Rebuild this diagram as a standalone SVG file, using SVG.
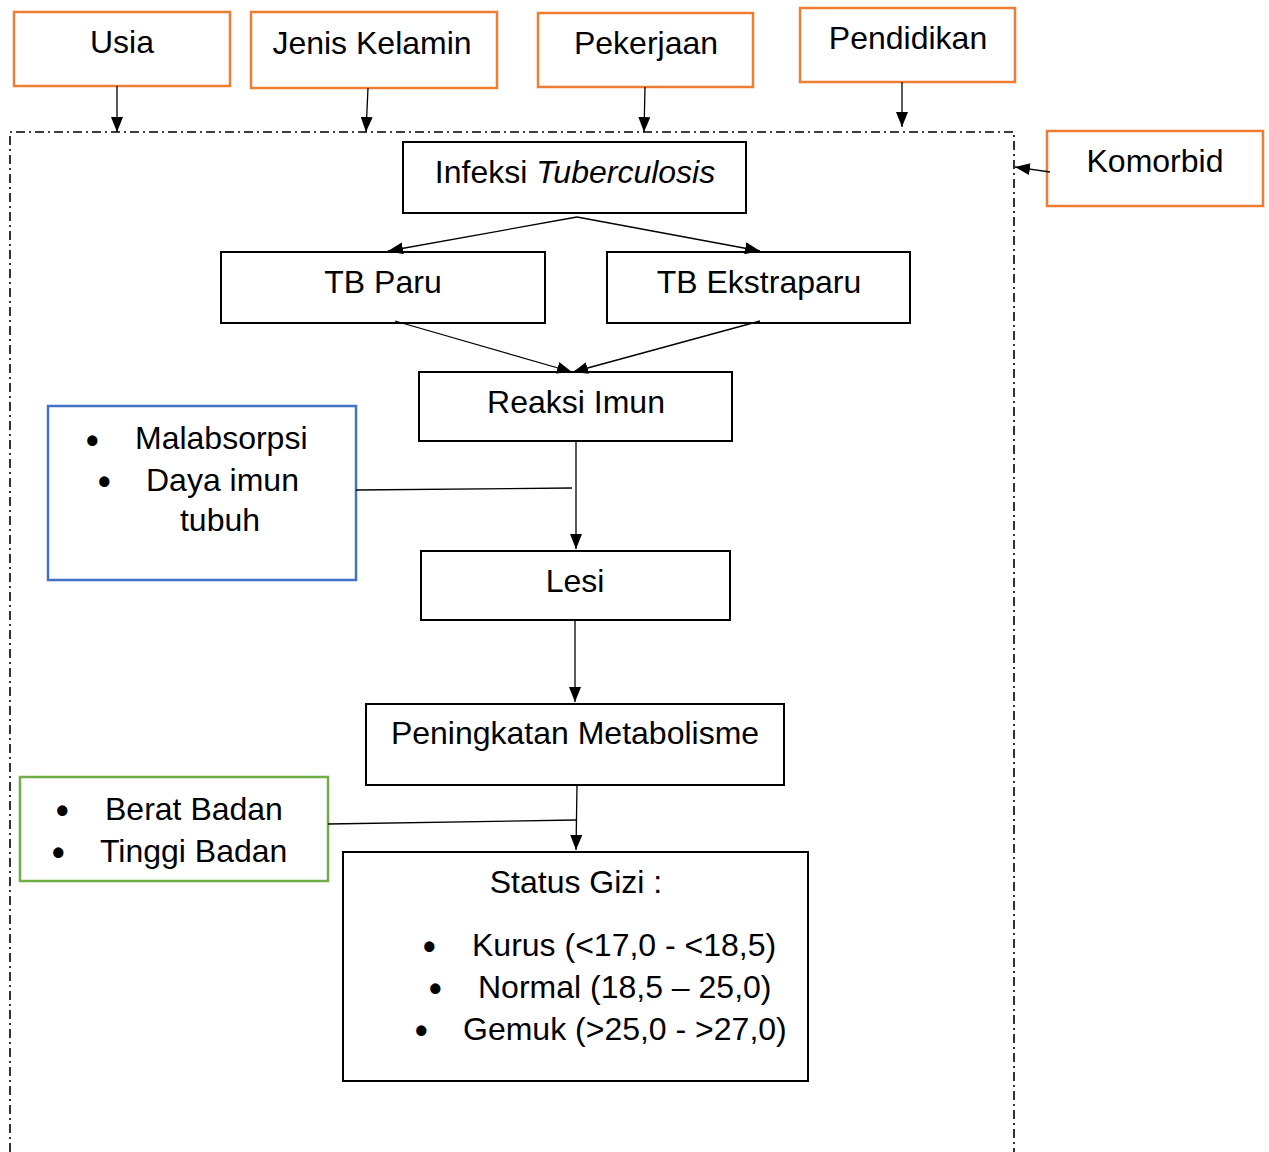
<svg xmlns="http://www.w3.org/2000/svg" width="1269" height="1152" viewBox="0 0 1269 1152">
<style>
text{font-family:"Liberation Sans",Arial,sans-serif;font-size:32px;fill:#000}
text.b{font-size:36px;font-weight:bold}
.c{text-anchor:middle}
.or{fill:#fff;stroke:#ED7D31;stroke-width:2.5}
.bk{fill:#fff;stroke:#000;stroke-width:2}
.bl{fill:#fff;stroke:#4472C4;stroke-width:2.5}
.gr{fill:#fff;stroke:#70AD47;stroke-width:2.5}
.ln{stroke:#000;stroke-width:1.3;fill:none}
.ar{stroke:#000;stroke-width:1.3;fill:none;marker-end:url(#ah)}
.frame{stroke:#000;stroke-width:1.6;fill:none;stroke-dasharray:9 4 2 4}
</style>
<defs>
<marker id="ah" viewBox="0 0 15 12" refX="15" refY="6" markerWidth="15" markerHeight="12" markerUnits="userSpaceOnUse" orient="auto">
<path d="M0,0 L15,6 L0,12 Z" fill="#000"/>
</marker>
</defs>
<rect width="1269" height="1152" fill="#fff"/>
<g id="frame"><path class="frame" d="M10,1152 L10,132 L1014,132 L1014,1152"/></g>
<g id="usia"><rect class="or" x="14" y="12" width="216" height="74"/><text class="c" x="122" y="53">Usia</text></g>
<g id="jenis-kelamin"><rect class="or" x="251" y="12" width="246" height="76"/><text class="c" x="372" y="54">Jenis Kelamin</text></g>
<g id="pekerjaan"><rect class="or" x="538" y="13" width="215" height="74"/><text class="c" x="646" y="54">Pekerjaan</text></g>
<g id="pendidikan"><rect class="or" x="800" y="8" width="215" height="74"/><text class="c" x="908" y="49">Pendidikan</text></g>
<g id="komorbid"><rect class="or" x="1047" y="131" width="216" height="75"/><text class="c" x="1155" y="172">Komorbid</text></g>
<g id="infeksi"><rect class="bk" x="403" y="142" width="343" height="71"/><text class="c" x="575" y="183">Infeksi <tspan font-style="italic">Tuberculosis</tspan></text></g>
<g id="tb-paru"><rect class="bk" x="221" y="252" width="324" height="71"/><text class="c" x="383" y="293">TB Paru</text></g>
<g id="tb-ekstraparu"><rect class="bk" x="607" y="252" width="303" height="71"/><text class="c" x="759" y="293">TB Ekstraparu</text></g>
<g id="reaksi-imun"><rect class="bk" x="419" y="372" width="313" height="69"/><text class="c" x="576" y="413">Reaksi Imun</text></g>
<g id="lesi"><rect class="bk" x="421" y="551" width="309" height="69"/><text class="c" x="575" y="592">Lesi</text></g>
<g id="peningkatan"><rect class="bk" x="366" y="704" width="418" height="81"/><text class="c" x="575" y="744">Peningkatan Metabolisme</text></g>
<g id="status-gizi"><rect class="bk" x="343" y="852" width="465" height="229"/>
<text class="c" x="576" y="893">Status Gizi :</text>
<text class="b" x="423" y="959">•</text><text x="472" y="956">Kurus (&lt;17,0 - &lt;18,5)</text>
<text class="b" x="429" y="1001">•</text><text x="478" y="998">Normal (18,5 – 25,0)</text>
<text class="b" x="415" y="1043">•</text><text x="463" y="1040">Gemuk (&gt;25,0 - &gt;27,0)</text>
</g>
<g id="malabsorpsi"><rect class="bl" x="48" y="406" width="308" height="174"/>
<text class="b" x="86" y="453">•</text><text x="135" y="449">Malabsorpsi</text>
<text class="b" x="98" y="494">•</text><text x="146" y="491">Daya imun</text>
<text class="c" x="220" y="531">tubuh</text>
</g>
<g id="berat-tinggi"><rect class="gr" x="20" y="777" width="308" height="104"/>
<text class="b" x="56" y="823">•</text><text x="105" y="820">Berat Badan</text>
<text class="b" x="52" y="865">•</text><text x="100" y="862">Tinggi Badan</text>
</g>
<g id="connectors">
<path class="ar" d="M117,86 L117,132"/>
<path class="ar" d="M368,88 L366,132"/>
<path class="ar" d="M645,87 L644,132"/>
<path class="ar" d="M902,82 L902,127"/>
<path class="ar" d="M1050,172 L1015,167"/>
<path class="ar" d="M577,217 L388,251"/>
<path class="ar" d="M577,217 L760,251"/>
<path class="ar" d="M395,321 L572,372"/>
<path class="ar" d="M760,321 L573,372"/>
<path class="ar" d="M576,441 L576,549"/>
<path class="ln" d="M356,490 L572,488"/>
<path class="ar" d="M575,620 L575,702"/>
<path class="ar" d="M577,785 L576,850"/>
<path class="ln" d="M328,824 L576,820"/>
</g>
</svg>
